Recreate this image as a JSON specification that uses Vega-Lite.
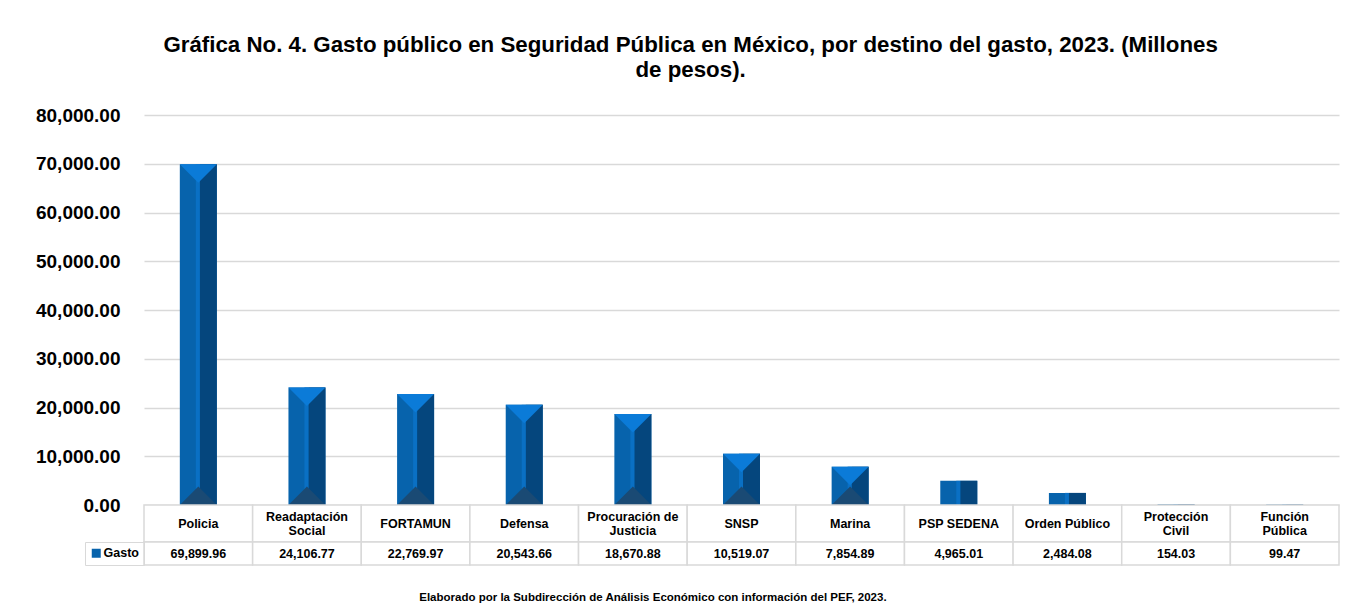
{
  "$schema": "https://vega.github.io/schema/vega-lite/v6.json",
  "autosize": {"type": "pad"},
  "padding": {"left": 35, "top": 33, "right": 5, "bottom": 5},
  "background": "white",
  "bounds": "flush",
  "title": {
    "text": ["Gráfica No. 4. Gasto público en Seguridad Pública en México, por destino del gasto, 2023. (Millones", "de pesos)."],
    "font": "Liberation Sans",
    "fontSize": 22.3,
    "fontWeight": "bold",
    "color": "#000000",
    "anchor": "middle",
    "dx": 3,
    "offset": 25,
    "lineHeight": 25
  },
  "datasets": {
    "gasto": [
      {"categoria": "Policia", "gasto": 69899.96, "serie": "Gasto"},
      {"categoria": "Readaptación\nSocial", "gasto": 24106.77, "serie": "Gasto"},
      {"categoria": "FORTAMUN", "gasto": 22769.97, "serie": "Gasto"},
      {"categoria": "Defensa", "gasto": 20543.66, "serie": "Gasto"},
      {"categoria": "Procuración de\nJusticia", "gasto": 18670.88, "serie": "Gasto"},
      {"categoria": "SNSP", "gasto": 10519.07, "serie": "Gasto"},
      {"categoria": "Marina", "gasto": 7854.89, "serie": "Gasto"},
      {"categoria": "PSP SEDENA", "gasto": 4965.01, "serie": "Gasto"},
      {"categoria": "Orden Público", "gasto": 2484.08, "serie": "Gasto"},
      {"categoria": "Protección\nCivil", "gasto": 154.03, "serie": "Gasto"},
      {"categoria": "Función\nPública", "gasto": 99.47, "serie": "Gasto"}
    ]
  },
  "spacing": 0,
  "resolve": {"scale": {"x": "shared"}},
  "vconcat": [
    {
      "width": 1195,
      "height": 390,
      "data": {"name": "gasto"},
      "encoding": {
        "x": {"field": "categoria", "type": "nominal", "sort": null, "axis": null,
              "scale": {"paddingInner": 0, "paddingOuter": 0}}
      },
      "layer": [
        {
          "mark": {"type": "bar", "width": 37},
          "encoding": {
            "y": {"field": "gasto", "type": "quantitative",
                  "scale": {"domain": [0, 80000], "nice": false},
                  "axis": {
                    "title": null, "values": [0, 10000, 20000, 30000, 40000, 50000, 60000, 70000, 80000],
                    "format": ",.2f", "labelFont": "Liberation Sans", "labelFontSize": 19,
                    "labelFontWeight": "bold", "labelColor": "#000000", "labelPadding": 24,
                    "domain": false, "ticks": false, "grid": true, "gridColor": "#d9d9d9", "gridWidth": 1.5
                  }},
            "color": {"field": "serie", "type": "nominal",
                      "scale": {"range": ["#0763AC"]},
                      "legend": {
                        "orient": "none", "legendX": -59, "legendY": 427, "title": null,
                        "symbolType": "square", "symbolSize": 81, "symbolStrokeWidth": 0,
                        "labelFont": "Liberation Sans", "labelFontSize": 12.5, "labelFontWeight": "bold",
                        "labelColor": "#000000", "labelOffset": 1,
                        "strokeColor": "#d9d9d9", "padding": 5
                      }}
          }
        },
        {
          "mark": {"type": "bar", "width": 17, "xOffset": 10, "color": "#05467D"},
          "encoding": {"y": {"field": "gasto", "type": "quantitative"}}
        },
        {
          "mark": {"type": "bar", "width": 4, "xOffset": -0.5, "color": "#0A70C4"},
          "encoding": {"y": {"field": "gasto", "type": "quantitative"}}
        },
        {
          "transform": [{"filter": "datum.gasto > 7000"}],
          "mark": {"type": "point", "shape": "M-1,0L1,0L0,1Z", "size": 1369, "filled": true,
                   "opacity": 1, "strokeWidth": 0, "color": "#0B7BD8"},
          "encoding": {"y": {"field": "gasto", "type": "quantitative"}}
        },
        {
          "transform": [{"filter": "datum.gasto > 7000"}],
          "mark": {"type": "point", "shape": "M-1,0L1,0L0,-1Z", "size": 1369, "filled": true,
                   "opacity": 1, "strokeWidth": 0, "color": "#1A4A74"},
          "encoding": {"y": {"datum": 0, "type": "quantitative"}}
        }
      ]
    },
    {
      "width": 1195,
      "height": 37,
      "data": {"name": "gasto"},
      "encoding": {
        "x": {"field": "categoria", "type": "nominal", "sort": null, "axis": null,
              "scale": {"paddingInner": 0, "paddingOuter": 0}}
      },
      "layer": [
        {"mark": {"type": "rect", "fill": "white", "stroke": "#d9d9d9", "strokeWidth": 1.5}},
        {"transform": [{"filter": "indexof(datum.categoria, '\\n') < 0"}],
         "mark": {"type": "text", "font": "Liberation Sans", "fontWeight": "bold", "fontSize": 12.5,
                  "color": "#000000"},
         "encoding": {"text": {"field": "categoria", "type": "nominal"}}},
        {"transform": [{"filter": "indexof(datum.categoria, '\\n') >= 0"}],
         "mark": {"type": "text", "font": "Liberation Sans", "fontWeight": "bold", "fontSize": 12.5,
                  "lineBreak": "\n", "lineHeight": 14, "dy": -7, "color": "#000000"},
         "encoding": {"text": {"field": "categoria", "type": "nominal"}}}
      ]
    },
    {
      "width": 1195,
      "height": 23,
      "data": {"name": "gasto"},
      "title": {"text": "Elaborado por la Subdirección de Análisis Económico con información del PEF, 2023.",
                "orient": "bottom", "anchor": "start", "dx": 276, "offset": 26,
                "font": "Liberation Sans", "fontSize": 11.5, "fontWeight": "bold", "color": "#000000"},
      "encoding": {
        "x": {"field": "categoria", "type": "nominal", "sort": null, "axis": null,
              "scale": {"paddingInner": 0, "paddingOuter": 0}}
      },
      "layer": [
        {"mark": {"type": "rect", "fill": "white", "stroke": "#d9d9d9", "strokeWidth": 1.5}},
        {"mark": {"type": "text", "font": "Liberation Sans", "fontWeight": "bold", "fontSize": 12.5,
                  "color": "#000000"},
         "encoding": {"text": {"field": "gasto", "type": "quantitative", "format": ",.2f"}}}
      ]
    }
  ],
  "config": {"view": {"stroke": null}}
}
